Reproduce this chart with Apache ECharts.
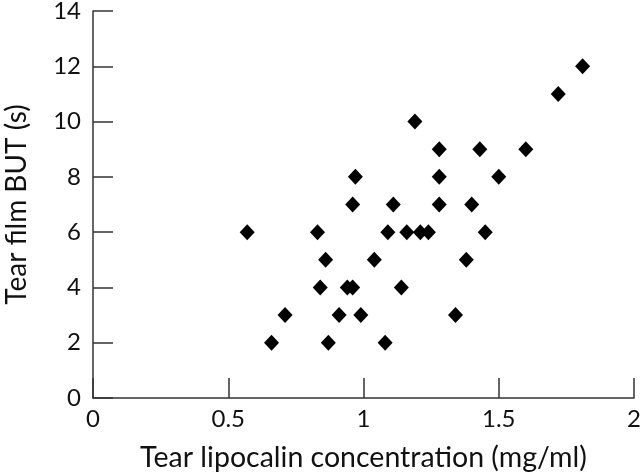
<!DOCTYPE html>
<html>
<head>
<meta charset="utf-8">
<script src="https://cdn.jsdelivr.net/npm/echarts@6/dist/echarts.min.js"></script>
<style>
  html, body { margin: 0; padding: 0; background: #fff; }
  #chart { width: 640px; height: 475px; }
</style>
</head>
<body>
<div id="chart"></div>
<script>
// Tear lipocalin concentration (mg/ml)
var lipocalin = [0.57, 0.66, 0.71, 0.83, 0.84, 0.86, 0.87, 0.91, 0.94, 0.96, 0.96, 0.97, 0.99, 1.04, 1.08, 1.09, 1.11, 1.14, 1.16, 1.19, 1.21, 1.24, 1.28, 1.28, 1.28, 1.34, 1.38, 1.40, 1.43, 1.45, 1.50, 1.60, 1.72, 1.81];
// Tear film BUT (s)
var but = [6, 2, 3, 6, 4, 5, 2, 3, 4, 4, 7, 8, 3, 5, 2, 6, 7, 4, 6, 10, 6, 6, 9, 8, 7, 3, 5, 7, 9, 6, 8, 9, 11, 12];

var xTicks = [0, 0.5, 1, 1.5, 2];
var yTicks = [0, 2, 4, 6, 8, 10, 12, 14];

var points = lipocalin.map(function (x, i) { return [x, but[i]]; });

var font = 'Lato';
var axisColor = '#333';

var chart = echarts.init(document.getElementById('chart'), null, { renderer: 'canvas' });
chart.setOption({
  animation: false,
  backgroundColor: '#fff',
  grid: { left: 93, right: 6, top: 11, bottom: 77, containLabel: false, outerBoundsMode: 'none' },
  xAxis: {
    type: 'value',
    min: xTicks[0], max: xTicks[xTicks.length - 1], interval: 0.5,
    name: 'Tear lipocalin concentration (mg/ml)',
    nameLocation: 'middle', nameGap: 45,
    nameTextStyle: { fontFamily: font, fontSize: 28.5, color: '#111' },
    axisLine: { lineStyle: { color: axisColor, width: 1.5 } },
    axisTick: { inside: true, length: 20, lineStyle: { color: axisColor, width: 1.5 } },
    axisLabel: { fontFamily: font, fontSize: 24, color: '#111', margin: 9,
      formatter: function (v) { return String(v); } },
    splitLine: { show: false }
  },
  yAxis: {
    type: 'value',
    min: yTicks[0], max: yTicks[yTicks.length - 1], interval: 2,
    name: 'Tear film BUT (s)',
    nameLocation: 'middle', nameGap: 62,
    nameTextStyle: { fontFamily: font, fontSize: 28, color: '#111' },
    axisLine: { lineStyle: { color: axisColor, width: 1.5 } },
    axisTick: { inside: true, length: 20, lineStyle: { color: axisColor, width: 1.5 } },
    axisLabel: { fontFamily: font, fontSize: 24, color: '#111', margin: 12 },
    splitLine: { show: false }
  },
  series: [{
    type: 'scatter',
    data: points,
    symbol: 'diamond',
    symbolSize: [15, 16],
    itemStyle: { color: '#000', opacity: 1 }
  }]
});
</script>
</body>
</html>
